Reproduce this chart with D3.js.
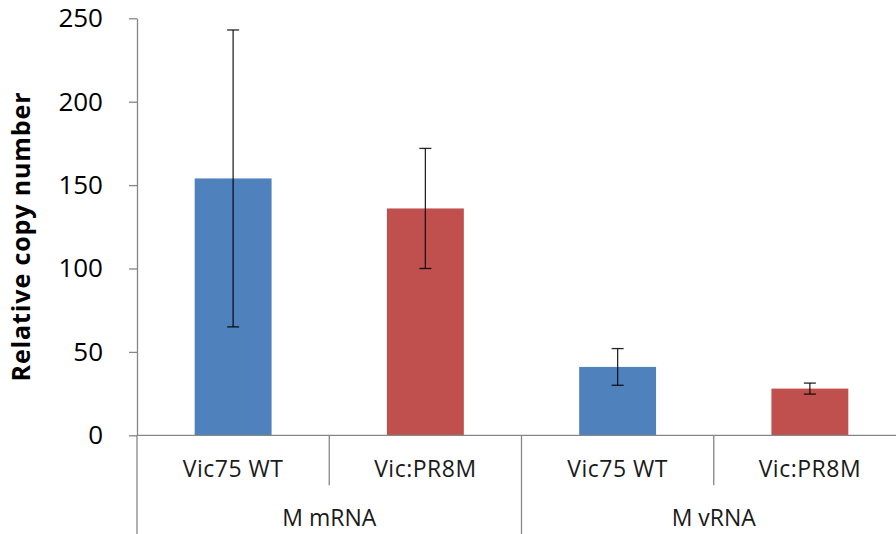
<!DOCTYPE html>
<html>
<head>
<meta charset="utf-8">
<script src="https://cdn.jsdelivr.net/npm/d3@7"></script>
<style>
    body { margin: 0; background: #fff; }
    svg text { font-family: 'Open Sans', 'Noto Sans', sans-serif; }
</style>
</head>
<body>
<div id="chart"></div>
<script>
// values
const groups = ['M mRNA', 'M vRNA'];
const strains = ['Vic75 WT', 'Vic:PR8M'];
const means = [154, 136, 41, 28];
const errors = [89, 36, 11, 3.3];
const yTicks = [0, 50, 100, 150, 200, 250];
const colors = ['#4F81BD', '#C0504D'];

const width = 896;
const height = 534;
const margin = { top: 18.3, left: 137, bottom: 98.7 };
const axisColor = '#868686';

const bars = [];
groups.forEach((g, gi) => strains.forEach((s, si) => {
    const i = gi * strains.length + si;
    bars.push({ id: i, group: g, strain: s, mean: means[i], err: errors[i], color: colors[si] });
}));

const svg = d3.select('#chart')
    .append('svg')
    .attr('width', width)
    .attr('height', height);

const x = d3.scaleBand()
    .domain(bars.map(d => d.id))
    .range([margin.left, 906])
    .paddingInner(0.6)
    .paddingOuter(0.3);

const y = d3.scaleLinear()
    .domain([0, 250])
    .range([height - margin.bottom, margin.top]);

const step = x.step();
const x0 = margin.left;
const base = y(0);

// bars
svg.append('g')
    .selectAll('rect')
    .data(bars)
    .join('rect')
    .attr('x', d => x(d.id))
    .attr('y', d => y(d.mean))
    .attr('width', x.bandwidth())
    .attr('height', d => base - y(d.mean))
    .attr('fill', d => d.color);

// error bars
const eb = svg.append('g')
    .attr('stroke', '#000')
    .attr('stroke-opacity', 0.85)
    .attr('stroke-width', 1.3)
    .selectAll('g')
    .data(bars)
    .join('g')
    .attr('transform', d => `translate(${x(d.id) + x.bandwidth() / 2},0)`);

eb.append('line')
    .attr('y1', d => y(d.mean + d.err))
    .attr('y2', d => y(d.mean - d.err));
eb.append('line')
    .attr('x1', -6).attr('x2', 6)
    .attr('y1', d => y(d.mean + d.err))
    .attr('y2', d => y(d.mean + d.err));
eb.append('line')
    .attr('x1', -6).attr('x2', 6)
    .attr('y1', d => y(d.mean - d.err))
    .attr('y2', d => y(d.mean - d.err));

// y axis
const yAxis = svg.append('g')
    .attr('transform', `translate(${x0},0)`)
    .call(d3.axisLeft(y).tickValues(yTicks).tickSize(8).tickSizeOuter(0).tickPadding(26));
yAxis.selectAll('path, line').attr('stroke', axisColor).attr('stroke-width', 1.3);
yAxis.selectAll('text')
    .attr('font-size', '26px')
    .attr('fill', '#000');

svg.append('line')
    .attr('x1', x0).attr('x2', x0)
    .attr('y1', base).attr('y2', height)
    .attr('stroke', axisColor).attr('stroke-width', 1.3);

// x axis line
svg.append('line')
    .attr('x1', x0).attr('x2', width)
    .attr('y1', base).attr('y2', base)
    .attr('stroke', axisColor).attr('stroke-width', 1.3);

// separators between categories
svg.append('g')
    .attr('stroke', axisColor)
    .attr('stroke-width', 1.3)
    .selectAll('line')
    .data(d3.range(1, bars.length))
    .join('line')
    .attr('x1', i => x0 + i * step)
    .attr('x2', i => x0 + i * step)
    .attr('y1', base)
    .attr('y2', i => i % strains.length === 0 ? height : base + 50);

// strain labels
svg.append('g')
    .selectAll('text')
    .data(bars)
    .join('text')
    .attr('x', d => x(d.id) + x.bandwidth() / 2)
    .attr('y', base + 41.4)
    .attr('text-anchor', 'middle')
    .attr('font-size', '23px')
    .attr('letter-spacing', '0.5px')
    .attr('fill', '#1a1a1a')
    .text(d => d.strain);

// group labels
svg.append('g')
    .selectAll('text')
    .data(groups)
    .join('text')
    .attr('x', (g, gi) => x0 + (gi + 0.5) * step * strains.length)
    .attr('y', base + 90.7)
    .attr('text-anchor', 'middle')
    .attr('font-size', '23px')
    .attr('fill', '#1a1a1a')
    .text(g => g);

// y title
svg.append('text')
    .attr('transform', 'translate(30,237) rotate(-90)')
    .attr('text-anchor', 'middle')
    .attr('font-size', '25px')
    .attr('font-weight', 'bold')
    .attr('textLength', 289)
    .attr('lengthAdjust', 'spacing')
    .attr('fill', '#000')
    .text('Relative copy number');
</script>
</body>
</html>
